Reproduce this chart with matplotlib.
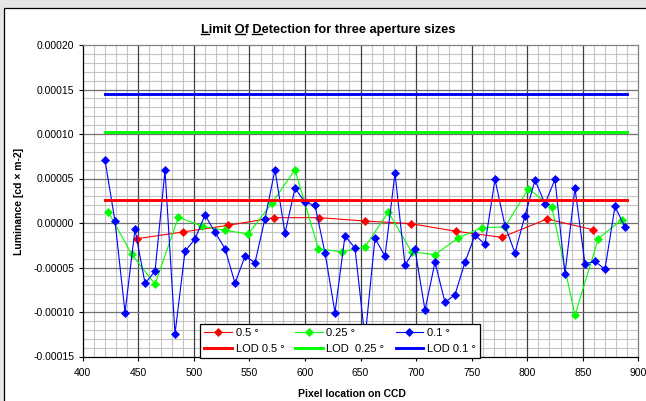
import matplotlib
matplotlib.use("Agg")
import matplotlib.pyplot as plt
from matplotlib.patches import Rectangle
from matplotlib.lines import Line2D
from matplotlib.ticker import MultipleLocator, FormatStrFormatter

plt.rcParams['font.family'] = ['Liberation Sans', 'DejaVu Sans']

# 0.5 degree aperture
x_05 = [449, 490, 531, 572, 613, 654, 695, 736, 777, 818, 859]
y_05 = [-1.76e-5, -1.01e-5, -0.26e-5, 0.60e-5, 0.60e-5, 0.22e-5, -0.07e-5,
        -0.93e-5, -1.61e-5, 0.45e-5, -0.75e-5]

# 0.25 degree aperture
x_025 = [423, 444, 465, 486, 507, 528, 549, 570, 591, 612, 633, 654, 675,
         696, 717, 738, 759, 780, 801, 822, 843, 864, 885]
y_025 = [1.23e-5, -3.51e-5, -6.88e-5, 0.64e-5, -0.34e-5, -0.82e-5, -1.23e-5,
         2.21e-5, 5.98e-5, -2.88e-5, -3.25e-5, -2.69e-5, 1.23e-5, -3.25e-5,
         -3.55e-5, -1.68e-5, -0.52e-5, -0.45e-5, 3.85e-5, 1.83e-5, -10.35e-5,
         -1.76e-5, 0.37e-5]

# 0.1 degree aperture
x_01 = [420, 429, 438, 447, 456, 465, 474, 483, 492, 501, 510, 519, 528, 537,
        546, 555, 564, 573, 582, 591, 600, 609, 618, 627, 636, 645, 654, 663,
        672, 681, 690, 699, 708, 717, 726, 735, 744, 753, 762, 771, 780, 789,
        798, 807, 816, 825, 834, 843, 852, 861, 870, 879, 888]
y_01 = [7.03e-5, 0.19e-5, -10.06e-5, -0.71e-5, -6.77e-5, -5.42e-5, 5.90e-5,
        -12.45e-5, -3.18e-5, -1.79e-5, 0.90e-5, -1.05e-5, -2.88e-5, -6.77e-5,
        -3.74e-5, -4.45e-5, 0.49e-5, 5.98e-5, -1.16e-5, 3.92e-5, 2.32e-5,
        1.98e-5, -3.36e-5, -10.06e-5, -1.42e-5, -2.84e-5, -13.0e-5, -1.72e-5,
        -3.74e-5, 5.60e-5, -4.75e-5, -2.95e-5, -9.79e-5, -4.41e-5, -8.90e-5,
        -8.07e-5, -4.41e-5, -1.35e-5, -2.39e-5, 4.90e-5, -0.30e-5, -3.36e-5,
        0.82e-5, 4.82e-5, 2.17e-5, 4.90e-5, -5.72e-5, 3.92e-5, -4.60e-5,
        -4.30e-5, -5.20e-5, 1.87e-5, -0.49e-5]

# limit of detection levels
lod_x = [420, 890]
lod_05 = 2.6e-5
lod_025 = 1.02e-4
lod_01 = 1.45e-4

W, H = 646, 401
fig = plt.figure(figsize=(W / 100, H / 100), dpi=100, facecolor='#e6e6e6')

# white chart panel with black frame
fig.patches.append(Rectangle((4 / W, -0.1), 1.1, 393 / H + 0.1,
                             transform=fig.transFigure, facecolor='white',
                             edgecolor='black', linewidth=0.9, zorder=-10))

ax = fig.add_axes([82.8 / W, (H - 356.5) / H, 555.5 / W, 311.5 / H])
ax.set_facecolor('white')

d05, = ax.plot(x_05, y_05, color='#ff0000', lw=0.8, marker='D', ms=4.3,
               mec='#ff0000', mew=0.5, label='0.5 °', zorder=3)
d025, = ax.plot(x_025, y_025, color='#00ff00', lw=0.8, marker='D', ms=4.3,
                mec='#00ff00', mew=0.5, label='0.25 °', zorder=3)
d01, = ax.plot(x_01, y_01, color='#0000ff', lw=0.8, marker='D', ms=4.3,
               mec='#0000ff', mew=0.5, label='0.1 °', zorder=3)
l05, = ax.plot(lod_x, [lod_05] * 2, color='#ff0000', lw=2.1,
               label='LOD 0.5 °', zorder=4)
l025, = ax.plot(lod_x, [lod_025] * 2, color='#00ff00', lw=2.1,
                label='LOD  0.25 °', zorder=4)
l01, = ax.plot(lod_x, [lod_01] * 2, color='#0000ff', lw=2.1,
               label='LOD 0.1 °', zorder=4)

ax.set_xlim(400, 900)
ax.set_ylim(-0.00015, 0.0002)
ax.xaxis.set_major_locator(MultipleLocator(50))
ax.xaxis.set_minor_locator(MultipleLocator(10))
ax.yaxis.set_major_locator(MultipleLocator(0.00005))
ax.yaxis.set_minor_locator(MultipleLocator(0.00001))
ax.yaxis.set_major_formatter(FormatStrFormatter('%.5f'))

ax.set_axisbelow(True)
ax.grid(which='minor', color='#c4c4c4', lw=0.8)
# major grid drawn above the minor one so it stays unbroken
for xv in ax.get_xticks():
    if 400 < xv < 900:
        ax.axvline(xv, color='#404040', lw=0.9, zorder=1)
for yv in ax.get_yticks():
    if -0.00015 < yv < 0.0002:
        ax.axhline(yv, color='#707070', lw=0.9, zorder=1)

ax.tick_params(which='major', direction='out', length=3, width=0.8,
               labelsize=7.5, color='black', pad=3)
ax.tick_params(axis='x', pad=5)
ax.tick_params(which='minor', length=0)
for s in ['top', 'right']:
    ax.spines[s].set_color('#808080')
for s in ['left', 'bottom']:
    ax.spines[s].set_color('black')
for s in ax.spines.values():
    s.set_linewidth(0.9)

handles = [d05, l05, d025, l025, d01, l01]
leg = ax.legend(handles=handles, labels=[h.get_label() for h in handles],
                ncol=3, loc='lower left', bbox_to_anchor=(0.211, -0.006),
                borderaxespad=0, fontsize=8, frameon=True, fancybox=False,
                framealpha=1, edgecolor='black', handlelength=2.5,
                handletextpad=0.3, columnspacing=1.0, labelspacing=0.5,
                borderpad=0.4)
leg.get_frame().set_linewidth(0.9)
leg.set_zorder(10)

fig.text(19.4 / W, (H - 201) / H, 'Luminance [cd × m-2]', rotation=90,
         ha='center', va='center', fontsize=7.5, fontweight='bold')
fig.text(351.7 / W, (H - 394) / H, 'Pixel location on CCD',
         ha='center', va='center', fontsize=7.5, fontweight='bold')

title_str = 'Limit Of Detection for three aperture sizes'
tx, ty = 328.3, H - 32.7
tsize = 9.2
title = fig.text(tx / W, ty / H, title_str, ha='center', va='baseline',
                 fontsize=tsize, fontweight='bold')

# underline the first letters of Limit, Of, Detection
fig.canvas.draw()
r = fig.canvas.get_renderer()


def text_w(s):
    t = fig.text(0, 0, s, fontsize=tsize, fontweight='bold')
    w = t.get_window_extent(r).width
    t.remove()
    return w


bb = title.get_window_extent(r)
for i in [0, 6, 9]:
    w_c = text_w(title_str[i])
    x0 = bb.x0 + text_w(title_str[:i + 1]) - w_c
    fig.add_artist(Line2D([x0 / W, (x0 + w_c) / W], [(ty - 1.5) / H] * 2,
                          transform=fig.transFigure, color='black', lw=1.0))

fig.savefig('out.png', dpi=100, facecolor=fig.get_facecolor())
